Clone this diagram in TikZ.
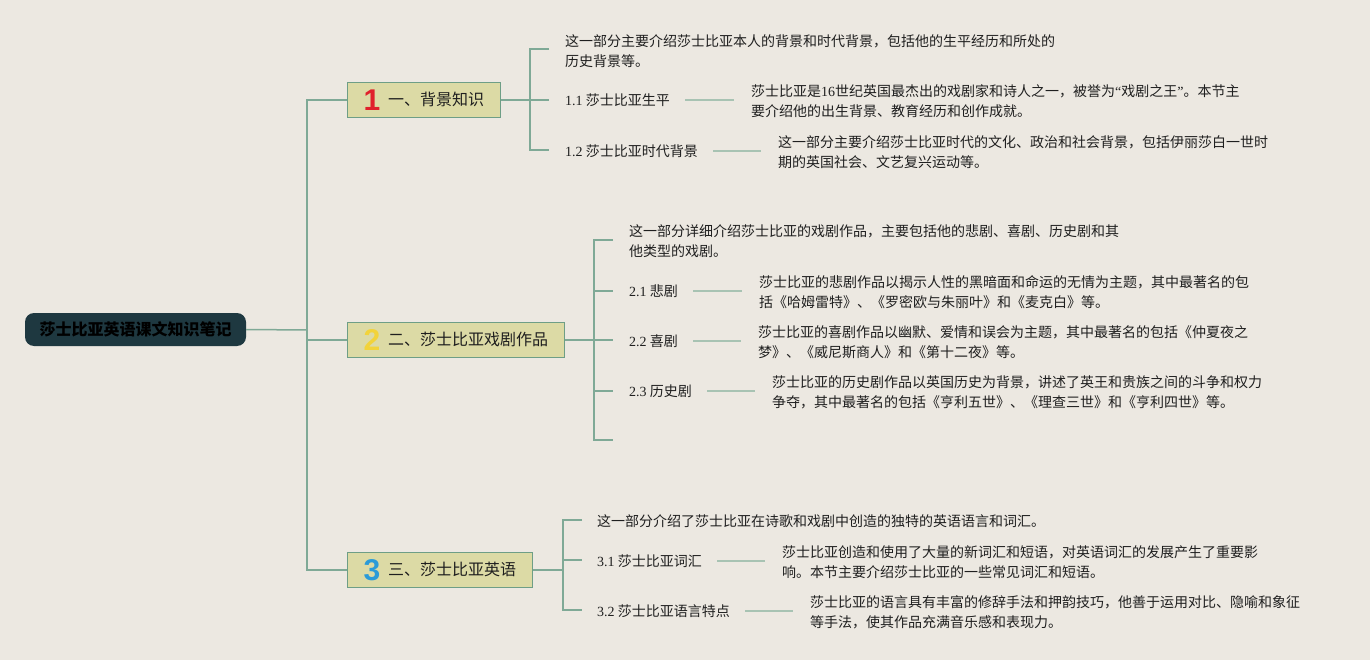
\documentclass[tikz,border=0pt]{standalone}
\usepackage{fontspec}
\setmainfont{Noto Sans CJK SC}
\newfontfamily\lat{Liberation Serif}
\newfontfamily\numf{Liberation Sans}
\usetikzlibrary{calc}
\definecolor{bg}{HTML}{ECE8E1}
\definecolor{linec}{HTML}{7FA996}
\definecolor{linel}{HTML}{A8C3B3}
\definecolor{branchf}{HTML}{DCDAA5}
\definecolor{branchd}{HTML}{6E9E86}
\definecolor{rootc}{HTML}{1E3840}
\definecolor{numr}{HTML}{E0212B}
\definecolor{numy}{HTML}{F2D33A}
\definecolor{numb}{HTML}{2B9BD8}
\definecolor{txt}{HTML}{1F1F1F}
\newcommand\bnum[2]{\raisebox{-4.7pt}{\numf\bfseries\fontsize{30}{30}\selectfont\color{#1}#2}}
\begin{document}
\begin{tikzpicture}[x=1pt,y=-1pt,
  conn/.style={draw=linec, line width=1.5pt},
  link/.style={draw=linel, line width=2pt},
  rootbox/.style={fill=rootc, rounded corners=9pt, minimum width=221pt, minimum height=33pt, inner sep=0pt, text=black, font=\fontsize{16}{18}\selectfont\bfseries},
  branch/.style={draw=branchd, fill=branchf, line width=1pt, minimum height=35pt, inner xsep=16pt, inner ysep=0pt, anchor=west, text=txt, font=\fontsize{16}{18}\selectfont},
  lbl/.style={anchor=west, inner sep=0pt, text=txt, font=\fontsize{14}{20}\selectfont},
  desc/.style={anchor=west, inner sep=0pt, align=left, text=txt, font=\fontsize{14}{20}\selectfont}]
\fill[bg] (0,0) rectangle (1370,660);
\useasboundingbox (0,0) rectangle (1370,660);

% root
\node[rootbox] (root) at (135.5,329.5) {莎士比亚英语课文知识笔记};
\coordinate (jr) at (307,330);

% branches
\node[branch] (b1) at (347,100) {\bnum{numr}{1}\hspace{8pt}一、背景知识};
\node[branch] (b2) at (347,340) {\bnum{numy}{2}\hspace{8pt}二、莎士比亚戏剧作品};
\node[branch] (b3) at (347,570) {\bnum{numb}{3}\hspace{8pt}三、莎士比亚英语};

\draw[conn] (root.east) -- (jr);
\draw[conn] (b1.west) -| (jr);
\draw[conn] (b2.west) -| (jr);
\draw[conn] (b3.west) -| (jr);

% ---------- section 1
\coordinate (j1) at (530,100);
\coordinate (t1a) at (549,49);
\coordinate (t1b) at (549,100);
\coordinate (t1c) at (549,150);
\draw[conn] (b1.east) -- (j1);
\draw[conn] (t1a) -| (j1) |- (t1c);
\draw[conn] (j1) -- (t1b);

\node[desc] (d1) at (565,51.5) {这一部分主要介绍莎士比亚本人的背景和时代背景，包括他的生平经历和所处的\\历史背景等。};
\node[lbl] (l11) at (565,100) {{\lat 1.1} 莎士比亚生平};
\node[desc] (d11) at (751,101) {莎士比亚是{\lat 16}世纪英国最杰出的戏剧家和诗人之一，被誉为{\lat “}戏剧之王{\lat ”}。本节主\\要介绍他的出生背景、教育经历和创作成就。};
\node[lbl] (l12) at (565,151) {{\lat 1.2} 莎士比亚时代背景};
\node[desc] (d12) at (778,152) {这一部分主要介绍莎士比亚时代的文化、政治和社会背景，包括伊丽莎白一世时\\期的英国社会、文艺复兴运动等。};
\draw[link] ([xshift=15pt]l11.east) -- ($(l11.east -| d11.west)+(-17,0)$);
\draw[link] ([xshift=15pt]l12.east) -- ($(l12.east -| d12.west)+(-17,0)$);

% ---------- section 2
\coordinate (j2) at (594,340);
\coordinate (t2a) at (613,240);
\coordinate (t2b) at (613,291);
\coordinate (t2c) at (613,340);
\coordinate (t2d) at (613,391);
\coordinate (t2e) at (613,440);
\draw[conn] (b2.east) -- (j2);
\draw[conn] (t2a) -| (j2) |- (t2e);
\draw[conn] (j2 |- t2b) -- (t2b);
\draw[conn] (j2) -- (t2c);
\draw[conn] (j2 |- t2d) -- (t2d);

\node[desc] (d2) at (629,241.5) {这一部分详细介绍莎士比亚的戏剧作品，主要包括他的悲剧、喜剧、历史剧和其\\他类型的戏剧。};
\node[lbl] (l21) at (629,291) {{\lat 2.1} 悲剧};
\node[desc] (d21) at (759,292) {莎士比亚的悲剧作品以揭示人性的黑暗面和命运的无情为主题，其中最著名的包\\括《哈姆雷特》、《罗密欧与朱丽叶》和《麦克白》等。};
\node[lbl] (l22) at (629,341) {{\lat 2.2} 喜剧};
\node[desc] (d22) at (758,342) {莎士比亚的喜剧作品以幽默、爱情和误会为主题，其中最著名的包括《仲夏夜之\\梦》、《威尼斯商人》和《第十二夜》等。};
\node[lbl] (l23) at (629,391) {{\lat 2.3} 历史剧};
\node[desc] (d23) at (772,392) {莎士比亚的历史剧作品以英国历史为背景，讲述了英王和贵族之间的斗争和权力\\争夺，其中最著名的包括《亨利五世》、《理查三世》和《亨利四世》等。};
\draw[link] ([xshift=15pt]l21.east) -- ($(l21.east -| d21.west)+(-17,0)$);
\draw[link] ([xshift=15pt]l22.east) -- ($(l22.east -| d22.west)+(-17,0)$);
\draw[link] ([xshift=15pt]l23.east) -- ($(l23.east -| d23.west)+(-17,0)$);

% ---------- section 3
\coordinate (j3) at (563,570);
\coordinate (t3a) at (582,520);
\coordinate (t3b) at (582,560);
\coordinate (t3c) at (582,610);
\draw[conn] (b3.east) -- (j3);
\draw[conn] (t3a) -| (j3) |- (t3c);
\draw[conn] (j3 |- t3b) -- (t3b);

\node[lbl] (d3) at (597,521) {这一部分介绍了莎士比亚在诗歌和戏剧中创造的独特的英语语言和词汇。};
\node[lbl] (l31) at (597,561) {{\lat 3.1} 莎士比亚词汇};
\node[desc] (d31) at (782,562) {莎士比亚创造和使用了大量的新词汇和短语，对英语词汇的发展产生了重要影\\响。本节主要介绍莎士比亚的一些常见词汇和短语。};
\node[lbl] (l32) at (597,611) {{\lat 3.2} 莎士比亚语言特点};
\node[desc] (d32) at (810,612) {莎士比亚的语言具有丰富的修辞手法和押韵技巧，他善于运用对比、隐喻和象征\\等手法，使其作品充满音乐感和表现力。};
\draw[link] ([xshift=15pt]l31.east) -- ($(l31.east -| d31.west)+(-17,0)$);
\draw[link] ([xshift=15pt]l32.east) -- ($(l32.east -| d32.west)+(-17,0)$);
\end{tikzpicture}
\end{document}
